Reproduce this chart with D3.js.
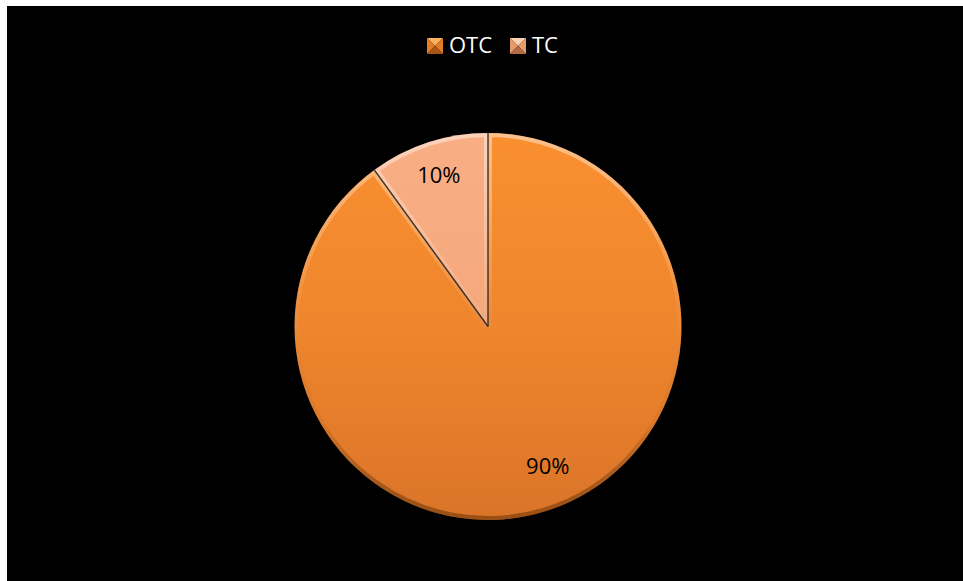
<!DOCTYPE html>
<html>
<head>
<meta charset="utf-8">
<script src="https://cdn.jsdelivr.net/npm/d3@7"></script>
<style>
  html, body { margin: 0; padding: 0; background: #ffffff; }
  svg { display: block; }
  text { font-family: "Open Sans", "DejaVu Sans", sans-serif; }
</style>
</head>
<body>
<svg id="chart" width="963" height="581"></svg>
<script>
// Share of OTC vs TC
const categories = ["OTC", "TC"];
const values = [90, 10];
const labels = ["90%", "10%"];

const W = 963, H = 581;
const svg = d3.select("#chart");

// chart background
svg.append("rect").attr("x", 7).attr("y", 6).attr("width", W - 7).attr("height", H - 6).attr("fill", "#000");

const defs = svg.append("defs");
const cx = 488, cy = 326.5, r = 193.5;

// slice fills: lit from above (coordinates are relative to the pie centre)
const fills = [
  { id: "gOTC", stops: [["0%", "#f98f2f"], ["50%", "#ef862d"], ["100%", "#da7428"]] },
  { id: "gTC", stops: [["0%", "#f9ae84"], ["100%", "#f0a274"]] }
];
fills.forEach(f => {
  const g = defs.append("linearGradient").attr("id", f.id)
    .attr("gradientUnits", "userSpaceOnUse")
    .attr("x1", 0).attr("y1", -r).attr("x2", 0).attr("y2", r);
  f.stops.forEach(s => g.append("stop").attr("offset", s[0]).attr("stop-color", s[1]));
});

// bevel stroke: light on top, dark at the bottom
const bev = defs.append("linearGradient").attr("id", "bevel")
  .attr("gradientUnits", "userSpaceOnUse")
  .attr("x1", 0).attr("y1", -r).attr("x2", 0).attr("y2", r);
bev.append("stop").attr("offset", "0%").attr("stop-color", "#ffffff").attr("stop-opacity", 0.45);
bev.append("stop").attr("offset", "40%").attr("stop-color", "#ffffff").attr("stop-opacity", 0.1);
bev.append("stop").attr("offset", "75%").attr("stop-color", "#000000").attr("stop-opacity", 0.04);
bev.append("stop").attr("offset", "100%").attr("stop-color", "#5a2a00").attr("stop-opacity", 0.5);

const color = d3.scaleOrdinal().domain(categories).range(["url(#gOTC)", "url(#gTC)"]);

const pie = d3.pie().sort(null).value(d => d.value).startAngle(0).endAngle(2 * Math.PI);
const data = categories.map((c, i) => ({ name: c, value: values[i], label: labels[i] }));
const arcs = pie(data);

const arc = d3.arc().innerRadius(0).outerRadius(r);
const g = svg.append("g").attr("transform", `translate(${cx},${cy})`);

arcs.forEach((a, i) => {
  const id = "clip" + i;
  defs.append("clipPath").attr("id", id).append("path").attr("d", arc(a));

  g.append("path").attr("d", arc(a)).attr("fill", color(a.data.name));

  // inner bevel rim, clipped to the slice
  g.append("path")
    .attr("d", arc(a))
    .attr("fill", "none")
    .attr("stroke", "url(#bevel)")
    .attr("stroke-width", 8)
    .attr("stroke-linejoin", "round")
    .attr("clip-path", `url(#${id})`);
});

// dark outline on the small slice's radial edges
const tc = arcs[1];
[tc.startAngle, tc.endAngle].forEach(ang => {
  g.append("line")
    .attr("x1", 0).attr("y1", 0)
    .attr("x2", r * Math.sin(ang)).attr("y2", -r * Math.cos(ang))
    .attr("stroke", "#3a3028").attr("stroke-width", 1.4);
});

// data labels
const labelR = [152, 159];
const labelNudge = [-0.09, 0];
arcs.forEach((a, i) => {
  const m = (a.startAngle + a.endAngle) / 2 + labelNudge[i];
  const x = labelR[i] * Math.sin(m), y = -labelR[i] * Math.cos(m);
  g.append("text")
    .attr("x", x).attr("y", y + 8)
    .attr("text-anchor", "middle")
    .attr("font-size", 22)
    .attr("fill", "#000")
    .text(a.data.label);
});

// legend
const legend = svg.append("g");
const legendX = [427, 510];
const swatch = [
  { top: "#fbb060", side: "#e27d25", bottom: "#a85716" },
  { top: "#fcd0b0", side: "#e99a6c", bottom: "#b46c45" }
];
categories.forEach((c, i) => {
  const x0 = legendX[i], y0 = 38, s = 16, mx = x0 + s / 2, my = y0 + s / 2;
  const lg = legend.append("g");
  lg.append("path").attr("d", `M${x0},${y0}L${x0 + s},${y0}L${mx},${my}Z`).attr("fill", swatch[i].top);
  lg.append("path").attr("d", `M${x0},${y0}L${mx},${my}L${x0},${y0 + s}Z`).attr("fill", swatch[i].side);
  lg.append("path").attr("d", `M${x0 + s},${y0}L${mx},${my}L${x0 + s},${y0 + s}Z`).attr("fill", swatch[i].side);
  lg.append("path").attr("d", `M${x0},${y0 + s}L${mx},${my}L${x0 + s},${y0 + s}Z`).attr("fill", swatch[i].bottom);
  lg.append("text")
    .attr("x", x0 + s + 6).attr("y", y0 + 15)
    .attr("font-size", 22).attr("fill", "#fff")
    .text(c);
});
</script>
</body>
</html>
